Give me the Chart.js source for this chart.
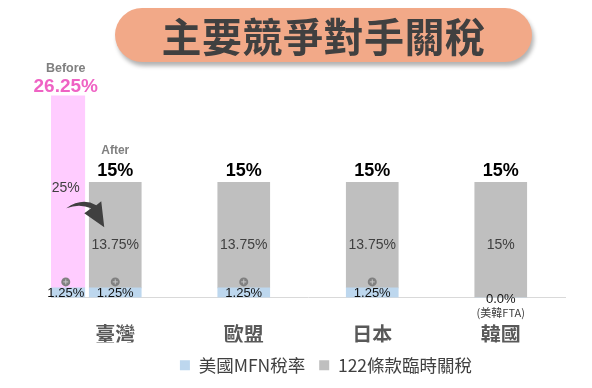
<!DOCTYPE html>
<html lang="zh-Hant">
<head>
<meta charset="utf-8">
<title>主要競爭對手關稅</title>
<script src="https://cdn.jsdelivr.net/npm/chart.js@4.4.1/dist/chart.umd.min.js"></script>
<style>
  html, body { margin: 0; padding: 0; background: #fff; }
  #wrap { position: relative; width: 592px; height: 388px; overflow: hidden; }
  #title {
    position: absolute; left: 115px; top: 8px; width: 417px; height: 54px;
    background: #f2a988; border-radius: 27px;
    box-shadow: 2px 4px 4px rgba(0, 0, 0, 0.3);
    font-family: "Noto Sans CJK TC", sans-serif; font-weight: 700;
    font-size: 40px; line-height: 54px; color: #404040;
    text-align: center; letter-spacing: 0.5px;
  }
  #chart { position: absolute; left: 0; top: 0; }
</style>
</head>
<body>
<div id="wrap">
  <canvas id="chart" width="592" height="388"></canvas>
  <div id="title">主要競爭對手關稅</div>
</div>
<script>
const CATEGORIES = ["臺灣", "歐盟", "日本", "韓國"];
const MFN_RATE = [1.25, 1.25, 1.25, 0];          // 美國MFN稅率
const SEC122_RATE = [13.75, 13.75, 13.75, 15];   // 122條款臨時關稅
const BEFORE_MFN = [1.25, null, null, null];
const BEFORE_RECIPROCAL = [25, null, null, null];
const ZERO_NOTES = [null, null, null, "(美韓FTA)"];
const LEGEND_LABELS = ["美國MFN稅率", "122條款臨時關稅"];

const BLUE = "#bdd7ee";
const GRAY = "#bfbfbf";
const PINK = "#ffccff";
const CJK = '"Noto Sans CJK TC", sans-serif';
const LATIN = '"Liberation Sans", "Noto Sans CJK TC", sans-serif';

// before bar sits left of the Taiwan "after" bar
const BEFORE_SHIFT = 0.385;

const pct = (v) => `${+v.toFixed(2)}%`;

function text(ctx, str, x, y, font, color) {
  ctx.font = font;
  ctx.fillStyle = color;
  ctx.textAlign = "center";
  ctx.textBaseline = "middle";
  ctx.fillText(str, x, y);
}

function plusIcon(ctx, x, y) {
  ctx.fillStyle = "#808080";
  ctx.beginPath();
  ctx.arc(x, y, 4.5, 0, Math.PI * 2);
  ctx.fill();
  ctx.strokeStyle = "#c8c8c8";
  ctx.lineWidth = 1;
  ctx.beginPath();
  ctx.moveTo(x - 2.5, y); ctx.lineTo(x + 2.5, y);
  ctx.moveTo(x, y - 2.5); ctx.lineTo(x, y + 2.5);
  ctx.stroke();
}

function curvedArrow(ctx, ax, ay) {
  ctx.fillStyle = "#404040";
  ctx.beginPath();
  ctx.moveTo(ax - 23, ay - 1);
  ctx.quadraticCurveTo(ax - 7, ay - 12, ax + 7, ay - 4);
  ctx.lineTo(ax + 12, ay - 8);
  ctx.lineTo(ax + 15, ay + 18);
  ctx.lineTo(ax - 5, ay + 4);
  ctx.lineTo(ax + 2, ay - 1);
  ctx.quadraticCurveTo(ax - 10, ay - 6, ax - 23, ay - 1);
  ctx.closePath();
  ctx.fill();
}

const barLabels = {
  id: "barLabels",
  afterLayout(chart) {
    // legend block sits a little right of centre in the original
    chart.legend.left += 18;
    chart.legend.right += 18;
  },
  afterDatasetsDraw(chart) {
    const ctx = chart.ctx;
    const sets = chart.data.datasets;
    const zero = chart.scales.y.getPixelForValue(0);
    ctx.save();

    sets.forEach((ds, di) => {
      const meta = chart.getDatasetMeta(di);
      meta.data.forEach((bar, i) => {
        const v = ds.data[i];
        if (v == null) return;
        const mid = (bar.y + bar.base) / 2;
        if (ds.kind === "mfn") {
          if (v > 0) {
            text(ctx, pct(v), bar.x, mid + 1, `13px ${LATIN}`, "#111");
            plusIcon(ctx, bar.x, bar.y - 6);
          } else {
            text(ctx, v.toFixed(1) + "%", bar.x, bar.base + 2, `13px ${LATIN}`, "#111");
            if (ZERO_NOTES[i]) text(ctx, ZERO_NOTES[i], bar.x, bar.base + 15, `11px ${CJK}`, "#404040");
          }
        } else if (ds.kind === "sec122") {
          text(ctx, pct(v), bar.x, (bar.y + zero) / 2 + 5, `14px ${LATIN}`, "#404040");
        } else if (ds.kind === "reciprocal") {
          text(ctx, pct(v), bar.x, mid - 4, `14px ${LATIN}`, "#404040");
        }
      });
    });

    // stack totals
    const after = chart.getDatasetMeta(1).data;
    after.forEach((bar, i) => {
      const total = MFN_RATE[i] + SEC122_RATE[i];
      text(ctx, pct(total), bar.x, bar.y - 11, `bold 18px ${LATIN}`, "#000");
      if (BEFORE_RECIPROCAL[i] != null) {
        text(ctx, "After", bar.x, bar.y - 32, `bold 12px ${LATIN}`, "#7f7f7f");
      }
    });
    const before = chart.getDatasetMeta(3).data;
    before.forEach((bar, i) => {
      if (BEFORE_RECIPROCAL[i] == null) return;
      const total = BEFORE_MFN[i] + BEFORE_RECIPROCAL[i];
      text(ctx, pct(total), bar.x, bar.y - 9, `bold 19px ${LATIN}`, "#ef63c4");
      text(ctx, "Before", bar.x, bar.y - 27, `bold 12.5px ${LATIN}`, "#7f7f7f");
      const target = after[i];
      curvedArrow(ctx, target.x - 26, chart.scales.y.getPixelForValue(11.5));
    });

    ctx.restore();
  }
};

const afterBar = { xAxisID: "x", stack: "after", grouped: false, barThickness: 52, maxBarThickness: 52 };
const beforeBar = { xAxisID: "xb", stack: "before", grouped: false, barThickness: 38, maxBarThickness: 38 };

new Chart(document.getElementById("chart"), {
  type: "bar",
  data: {
    labels: CATEGORIES,
    datasets: [
      { ...afterBar, label: LEGEND_LABELS[0], kind: "mfn", data: MFN_RATE, backgroundColor: BLUE },
      { ...afterBar, label: LEGEND_LABELS[1], kind: "sec122", data: SEC122_RATE, backgroundColor: GRAY },
      { ...beforeBar, label: LEGEND_LABELS[0], kind: "mfn", data: BEFORE_MFN, backgroundColor: BLUE },
      { ...beforeBar, label: "對等關稅", kind: "reciprocal", data: BEFORE_RECIPROCAL, backgroundColor: PINK },
    ],
  },
  options: {
    responsive: false,
    animation: false,
    layout: { padding: { top: 67, left: 51, right: 27, bottom: 4 } },
    scales: {
      x: {
        stacked: true,
        grid: { display: false, drawTicks: false },
        border: { display: true, color: "#d9d9d9", width: 1 },
        ticks: { padding: 25, color: "#595959", font: { family: CJK, size: 20, weight: "bold" } },
        afterFit: (s) => { s.height = 45; },
      },
      xb: {
        type: "category",
        labels: CATEGORIES,
        stacked: true,
        display: false,
        offset: true,
        afterDataLimits: (s) => { s.min += BEFORE_SHIFT; s.max += BEFORE_SHIFT; },
      },
      y: { stacked: true, display: false, min: 0, max: 30 },
    },
    plugins: {
      legend: {
        position: "bottom",
        labels: {
          filter: (item) => item.datasetIndex < 2,
          boxWidth: 10, boxHeight: 10, padding: 14,
          color: "#404040",
          font: { family: CJK, size: 17.5 },
        },
      },
      tooltip: { enabled: false },
    },
  },
  plugins: [barLabels],
});
</script>
</body>
</html>
